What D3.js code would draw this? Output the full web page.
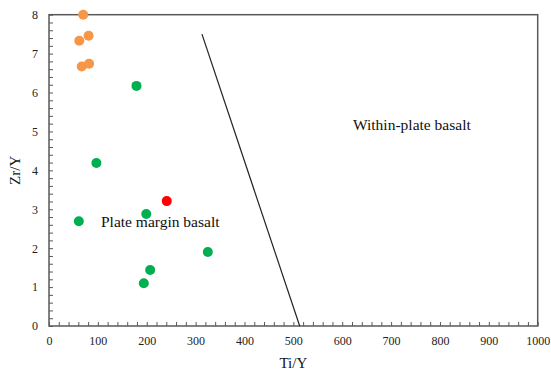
<!DOCTYPE html>
<html>
<head>
<meta charset="utf-8">
<script src="https://cdn.jsdelivr.net/npm/d3@7"></script>
<style>
  body { margin: 0; background: #fff; }
  text { font-family: "Liberation Serif", "Times New Roman", serif; }
</style>
</head>
<body>
<div id="chart"></div>
<script>
// Ti/Y vs Zr/Y, by group
const orangeTi = [70, 62, 81, 67, 82];
const orangeZr = [8.0, 7.33, 7.46, 6.67, 6.74];
const greenTi = [179, 97, 61, 199, 325, 207, 194];
const greenZr = [6.17, 4.19, 2.69, 2.88, 1.90, 1.44, 1.10];
const redTi = [241];
const redZr = [3.21];

// boundary line between fields
const boundary = [[313, 7.5], [513, 0]];

const xTicks = [0, 100, 200, 300, 400, 500, 600, 700, 800, 900, 1000];
const yTicks = [0, 1, 2, 3, 4, 5, 6, 7, 8];

const width = 551, height = 372;
const margin = {top: 14.7, right: 13.3, bottom: 46, left: 49};

const svg = d3.select('#chart').append('svg')
  .attr('width', width)
  .attr('height', height);

const x = d3.scaleLinear().domain([0, 1000]).range([margin.left, width - margin.right]);
const y = d3.scaleLinear().domain([0, 8]).range([height - margin.bottom, margin.top]);

const axisColor = '#595959';

// plot box
svg.append('rect')
  .attr('x', x(0)).attr('y', y(8))
  .attr('width', x(1000) - x(0)).attr('height', y(0) - y(8))
  .attr('fill', 'none')
  .attr('stroke', axisColor)
  .attr('stroke-width', 1.5);

// minor ticks, pointing inward
const xMinor = d3.range(0, 1001, 20);
const yMinor = d3.range(0, 8.01, 0.2);

svg.append('g')
  .attr('transform', `translate(0,${y(0)})`)
  .call(d3.axisTop(x).tickValues(xMinor).tickSize(4).tickFormat(''))
  .call(g => g.select('.domain').remove())
  .call(g => g.selectAll('line').attr('stroke', axisColor));

svg.append('g')
  .attr('transform', `translate(${x(0)},0)`)
  .call(d3.axisRight(y).tickValues(yMinor).tickSize(4).tickFormat(''))
  .call(g => g.select('.domain').remove())
  .call(g => g.selectAll('line').attr('stroke', axisColor));

// tick labels
svg.append('g')
  .attr('transform', `translate(0,${y(0)})`)
  .call(d3.axisBottom(x).tickValues(xTicks).tickSize(0).tickPadding(10).tickFormat(d3.format('d')))
  .call(g => g.select('.domain').remove())
  .call(g => g.selectAll('text')
    .attr('font-family', '"Liberation Serif", serif')
    .attr('font-size', 12)
    .attr('fill', '#222'));

svg.append('g')
  .attr('transform', `translate(${x(0)},0)`)
  .call(d3.axisLeft(y).tickValues(yTicks).tickSize(0).tickPadding(11).tickFormat(d3.format('d')))
  .call(g => g.select('.domain').remove())
  .call(g => g.selectAll('text')
    .attr('font-family', '"Liberation Serif", serif')
    .attr('font-size', 12)
    .attr('fill', '#222'));

// axis titles
svg.append('text')
  .attr('x', (x(0) + x(1000)) / 2)
  .attr('y', 368)
  .attr('text-anchor', 'middle')
  .attr('font-size', 15)
  .attr('fill', '#111')
  .text('Ti/Y');

svg.append('text')
  .attr('transform', `translate(20,${(y(0) + y(8)) / 2}) rotate(-90)`)
  .attr('text-anchor', 'middle')
  .attr('font-size', 15)
  .attr('fill', '#111')
  .text('Zr/Y');

// boundary
svg.append('path')
  .datum(boundary)
  .attr('d', d3.line().x(d => x(d[0])).y(d => y(d[1])))
  .attr('fill', 'none')
  .attr('stroke', '#222')
  .attr('stroke-width', 1.2);

// field labels
svg.append('text')
  .attr('x', 353).attr('y', 130)
  .attr('font-size', 15.5)
  .attr('fill', '#111')
  .text('Within-plate basalt');

svg.append('text')
  .attr('x', 101).attr('y', 227)
  .attr('font-size', 15.5)
  .attr('fill', '#111')
  .text('Plate margin basalt');

// points
function drawPoints(tiVals, zrVals, color) {
  svg.append('g').selectAll('circle')
    .data(d3.zip(tiVals, zrVals))
    .join('circle')
    .attr('cx', d => x(d[0]))
    .attr('cy', d => y(d[1]))
    .attr('r', 5)
    .attr('fill', color);
}

drawPoints(orangeTi, orangeZr, '#F79646');
drawPoints(greenTi, greenZr, '#00B050');
drawPoints(redTi, redZr, '#FF0000');
</script>
</body>
</html>
